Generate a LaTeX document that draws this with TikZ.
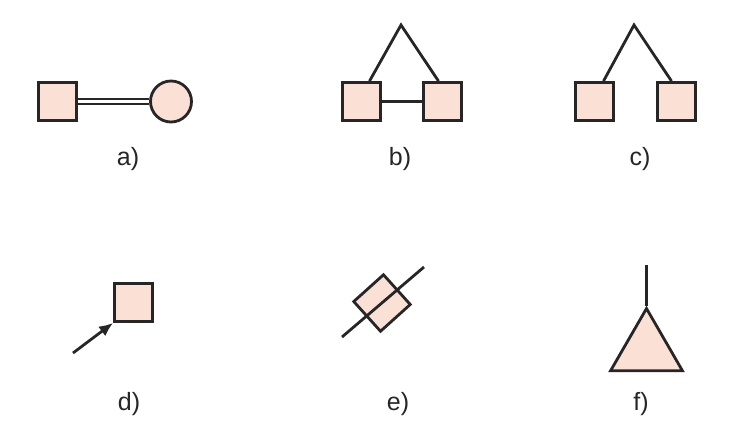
\documentclass[tikz,border=0pt]{standalone}
\usepackage{fontspec}
\setmainfont{Liberation Sans}
\usetikzlibrary{arrows.meta,%
	positioning,%
	shapes.geometric}
\definecolor{peach}{RGB}{251,225,213}

\begin{document}
\begin{tikzpicture}[x=1pt, y=-1pt, male/.style = {rectangle, draw=black!85, line width=2.8pt, fill=peach, minimum size=38pt, inner sep=0pt},female/.style = {circle, draw=black!85, line width=2.8pt, fill=peach, minimum size=41pt, inner sep=0pt},unsure/.style = {regular polygon, regular polygon sides=3, draw=black!85, line width=2.8pt, fill=peach, minimum size=83pt, inner sep=0pt},edge/.style = {line width=2.8pt, draw=black!85},tag/.style = {text=black!85, font=\fontsize{25}{30}\selectfont}]
	\useasboundingbox (0,0) rectangle (741,431);
	% a)
	\node[male] (a1) at (57.5,101.5) {};
	\node[female] (a2) at (171,101.5) {};
	\draw[edge, line width=2pt, double, double distance=2.6pt] (a1) -- (a2);
	\node[tag] (la) at (128,159) {a)};
	% b)
	\node[male] (b1) at (361.5,101.5) {};
	\node[male] (b2) at (442.5,101.5) {};
	\coordinate (b0) at (401,25);
	\draw[edge] (b1) -- (b2);
	\draw[edge] ([xshift=8pt]b1.north) -- (b0) -- ([xshift=-4pt]b2.north);
	\node[tag] (lb) at (400,159) {b)};
	% c)
	\node[male] (c1) at (594.5,101.5) {};
	\node[male] (c2) at (676.5,101.5) {};
	\coordinate (c0) at (634,25);
	\draw[edge] ([xshift=9pt]c1.north) -- (c0) -- ([xshift=-5pt]c2.north);
	\node[tag] (lc) at (640,159) {c)};
	% d)
	\node[male] (d1) at (133.5,302.5) {};
	\coordinate (d0) at (73,353);
	\draw[edge, -{Latex[length=14pt, width=12pt]}] (d0) -- (d1.south west);
	\node[tag] (ld) at (129,404) {d)};
	% e)
	\node[male, rotate=42, minimum size=40pt] (e1) at (382,303) {};
	\coordinate (e0) at (342,337);
	\coordinate (e2) at (424,267);
	\draw[edge] (e0) -- (e2);
	\node[tag] (le) at (398,404) {e)};
	% f)
	\node[unsure] (f1) at (646.5,350) {};
	\coordinate (f0) at (646.5,265);
	\draw[edge] (f0) -- (f1.corner 1);
	\node[tag] (lf) at (641,404) {f)};
\end{tikzpicture}
\end{document}
